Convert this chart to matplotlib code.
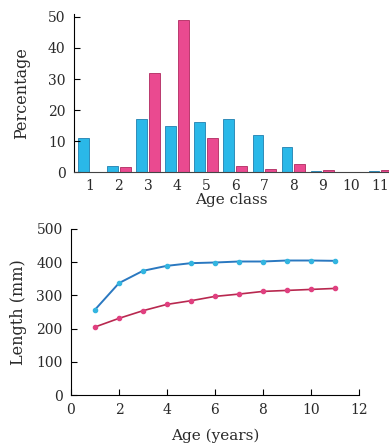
import matplotlib
matplotlib.use("Agg")
import matplotlib.pyplot as plt
import numpy as np

# Age-class frequency distribution (percent) for the two populations
age_classes = [1, 2, 3, 4, 5, 6, 7, 8, 9, 10, 11]
pct_blue = [11, 2, 17, 15, 16, 17, 12, 8, 0.3, 0, 0.2]
pct_pink = [0, 1.5, 32, 49, 11, 2, 1, 2.5, 0.6, 0, 0.5]

# Mean length at age (mm)
ages = [1, 2, 3, 4, 5, 6, 7, 8, 9, 10, 11]
len_blue = [257, 337, 374, 389, 397, 399, 402, 402, 405, 405, 404]
len_pink = [205, 231, 254, 273, 284, 297, 304, 312, 315, 318, 321]

plt.rcParams['font.family'] = ['DejaVu Serif']

BLUE_BAR = '#2ab8e8'
BLUE_EDGE = '#1f7fb0'
PINK_BAR = '#ea4a90'
PINK_EDGE = '#b02a60'
BLUE_LINE = '#2a78c0'
BLUE_MARK = '#33b5e0'
PINK_LINE = '#b8284f'
PINK_MARK = '#e04080'
TEXT = '#2a2a2a'

fig = plt.figure(figsize=(3.89, 4.48), dpi=100)

# --- Top: age-class distribution ---
ax1 = fig.add_axes([0.190, 0.616, 0.81, 0.353])
x = np.array(age_classes, dtype=float)
w = 0.37
ax1.bar(x - w / 2 - 0.03, pct_blue, width=w, color=BLUE_BAR,
        edgecolor=BLUE_EDGE, linewidth=0.6)
ax1.bar(x + w / 2 + 0.03, pct_pink, width=w, color=PINK_BAR,
        edgecolor=PINK_EDGE, linewidth=0.6)
ax1.set_xlim(0.45, 11.3)
ax1.set_ylim(0, 51)
ax1.set_yticks([0, 10, 20, 30, 40, 50])
ax1.set_xticks(age_classes)
ax1.set_xticklabels([str(a) for a in age_classes])
ax1.tick_params(axis='y', direction='in', length=4, width=0.8,
                labelsize=10, pad=6, labelcolor=TEXT)
ax1.tick_params(axis='x', length=0, labelsize=10, pad=5, labelcolor=TEXT)
ax1.spines['top'].set_visible(False)
ax1.spines['right'].set_visible(False)
ax1.spines['left'].set_linewidth(0.8)
ax1.spines['bottom'].set_linewidth(0.8)
ax1.spines['bottom'].set_color('#444444')
ax1.set_xlabel('Age class', fontsize=11, labelpad=0, color=TEXT)
ax1.set_ylabel('Percentage', fontsize=11.5, labelpad=13, color=TEXT)

# --- Bottom: length at age ---
ax2 = fig.add_axes([0.1825, 0.118, 0.740, 0.371])
ax2.plot(ages, len_blue, color=BLUE_LINE, linewidth=1.4, marker='o',
         markersize=3, markerfacecolor=BLUE_MARK, markeredgecolor=BLUE_MARK)
ax2.plot(ages, len_pink, color=PINK_LINE, linewidth=1.2, marker='o',
         markersize=3, markerfacecolor=PINK_MARK, markeredgecolor=PINK_MARK)
ax2.set_xlim(0, 12)
ax2.set_ylim(0, 500)
ax2.set_xticks([0, 2, 4, 6, 8, 10, 12])
ax2.set_yticks([0, 100, 200, 300, 400, 500])
ax2.tick_params(axis='both', direction='in', length=4, width=0.8,
                labelsize=10, pad=6, labelcolor=TEXT)
ax2.spines['top'].set_visible(False)
ax2.spines['right'].set_visible(False)
ax2.spines['left'].set_linewidth(0.8)
ax2.spines['bottom'].set_linewidth(0.8)
ax2.set_xlabel('Age (years)', fontsize=11, labelpad=8, color=TEXT)
ax2.set_ylabel('Length (mm)', fontsize=11.5, labelpad=7, color=TEXT)

fig.savefig('out.png', dpi=100)
